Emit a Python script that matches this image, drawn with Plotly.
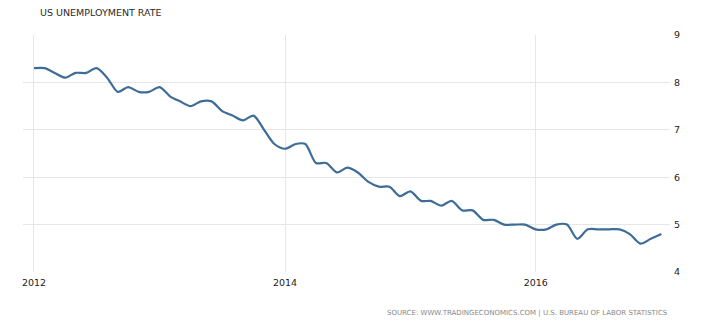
import plotly.graph_objects as go

months = [f"{y}-{m:02d}-01" for y in range(2012, 2017) for m in range(1, 13)] + ["2017-01-01"]
rate_2012 = [8.3, 8.3, 8.2, 8.1, 8.2, 8.2, 8.3, 8.1, 7.8, 7.9, 7.8, 7.8]
rate_2013 = [7.9, 7.7, 7.6, 7.5, 7.6, 7.6, 7.4, 7.3, 7.2, 7.3, 7.0, 6.7]
rate_2014 = [6.6, 6.7, 6.7, 6.3, 6.3, 6.1, 6.2, 6.1, 5.9, 5.8, 5.8, 5.6]
rate_2015 = [5.7, 5.5, 5.5, 5.4, 5.5, 5.3, 5.3, 5.1, 5.1, 5.0, 5.0, 5.0]
rate_2016 = [4.9, 4.9, 5.0, 5.0, 4.7, 4.9, 4.9, 4.9, 4.9, 4.8, 4.6, 4.7]
rate_2017 = [4.8]
rates = rate_2012 + rate_2013 + rate_2014 + rate_2015 + rate_2016 + rate_2017

y_ticks = [4, 5, 6, 7, 8, 9]
title_text = "US UNEMPLOYMENT RATE"
source_text = "SOURCE: WWW.TRADINGECONOMICS.COM | U.S. BUREAU OF LABOR STATISTICS"

# page body has an 8px margin, so the figure is drawn 8px smaller and offset
OFF = 8
W, H = 720 - OFF, 321 - OFF
ML, MR, MT, MB = 23 - OFF, 50, 35 - OFF, 49

fig = go.Figure()
fig.add_trace(go.Scatter(
    x=months, y=rates, mode="lines",
    line=dict(color="#3d6c98", width=2.2, shape="spline", smoothing=0.8),
    hoverinfo="x+y", showlegend=False,
))

fig.update_layout(
    width=W, height=H,
    margin=dict(l=ML, r=MR, t=MT, b=MB, pad=0),
    paper_bgcolor="white", plot_bgcolor="white",
    font=dict(family="DejaVu Sans", color="#222"),
    title=dict(text=title_text, xref="container", yref="container",
               x=(40 - OFF) / W, xanchor="left", y=1 - 1 / H, yanchor="top",
               font=dict(family="DejaVu Sans", size=9.5, color="#2a2a2a")),
    xaxis=dict(
        type="date",
        range=["2011-11-30", "2017-01-26"],
        tick0="2012-01-01", dtick="M24", tickformat="%Y",
        showgrid=True, gridcolor="#e6e6e6", gridwidth=1,
        zeroline=False, showline=False, ticks="",
        ticklabelstandoff=3,
        tickfont=dict(family="DejaVu Sans", size=9.5, color="#222"),
    ),
    yaxis=dict(
        side="right", range=[4, 9], tickvals=y_ticks,
        showgrid=True, gridcolor="#e6e6e6", gridwidth=1,
        zeroline=False, showline=False, ticks="",
        ticklabelstandoff=3,
        tickfont=dict(family="DejaVu Sans", size=9.5, color="#222"),
    ),
    annotations=[dict(
        text=source_text, xref="paper", yref="paper",
        x=1, xanchor="right", y=-(313 - 272) / (272 - 35), yanchor="middle",
        showarrow=False, font=dict(family="DejaVu Sans", size=7, color="#888"),
    )],
)

fig.write_html("out.html")
